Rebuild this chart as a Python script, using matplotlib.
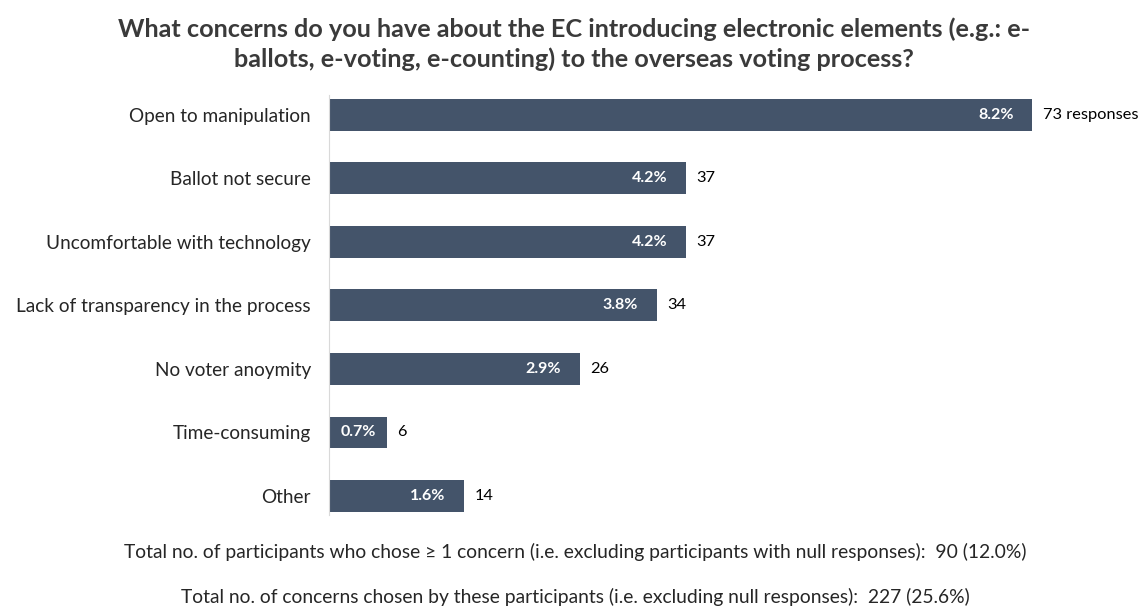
import matplotlib
matplotlib.use("Agg")
import matplotlib.pyplot as plt

plt.rcParams['font.family'] = ['Lato', 'DejaVu Sans']

# Daten
concerns = ["Open to manipulation", "Ballot not secure", "Uncomfortable with technology",
            "Lack of transparency in the process", "No voter anoymity", "Time-consuming", "Other"]
counts = [73, 37, 37, 34, 26, 6, 14]
percents = ["8.2%", "4.2%", "4.2%", "3.8%", "2.9%", "0.7%", "1.6%"]

title = ("What concerns do you have about the EC introducing electronic elements (e.g.: e-\n"
         "ballots, e-voting, e-counting) to the overseas voting process?")
foot1 = "Total no. of participants who chose \u2265 1 concern (i.e. excluding participants with null responses):  90 (12.0%)"
foot2 = "Total no. of concerns chosen by these participants (i.e. excluding null responses):  227 (25.6%)"

fig = plt.figure(figsize=(11.48, 6.12), dpi=100)
ax = fig.add_axes([329/1148, 1-515/612, 1-329/1148, 420/612])

y = range(len(concerns))
ax.barh(y, counts, height=0.5, color='#44546A')
ax.set_ylim(6.3, -0.31)
ax.set_xlim(0, 85)

for i, (c, p) in enumerate(zip(counts, percents)):
    if c < 10:  # kurzer Balken -> Beschriftung mittig
        ax.text(c / 2, i, p, ha='center', va='center', color='white', fontsize=11.5, fontweight='bold')
    else:
        ax.text(c - 1.9, i, p, ha='right', va='center', color='white', fontsize=11.5, fontweight='bold')
    lab = f"{c} responses" if i == 0 else str(c)
    ax.text(c + 1.1, i, lab, ha='left', va='center', color='black', fontsize=11.8)

ax.set_yticks(list(y))
ax.set_yticklabels(concerns, fontsize=13.7, color='#262626')
ax.tick_params(axis='y', length=0, pad=13)
ax.set_xticks([])
for s in ['top', 'right', 'bottom']:
    ax.spines[s].set_visible(False)
ax.spines['left'].set_color('#d9d9d9')

fig.text(574/1148, 1-44/612, title, ha='center', va='center', fontsize=18.2, fontweight='bold',
         color='#3a3a3a', linespacing=1.3)
fig.text(575/1148, 1-552/612, foot1, ha='center', va='center', fontsize=13.9, color='#262626')
fig.text(575/1148, 1-597/612, foot2, ha='center', va='center', fontsize=13.9, color='#262626')

fig.savefig("out.png", dpi=100)
